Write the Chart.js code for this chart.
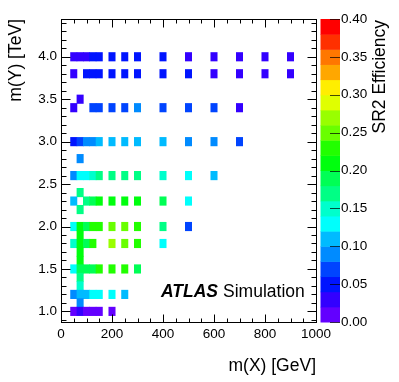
<!DOCTYPE html>
<html>
<head>
<meta charset="utf-8">
<script src="https://cdn.jsdelivr.net/npm/chart.js@4.4.0/dist/chart.umd.min.js"></script>
<style>
html,body{margin:0;padding:0;background:#fff;}
#wrap{width:399px;height:382px;position:relative;}
</style>
</head>
<body>
<div id="wrap"><canvas id="c" width="399" height="382"></canvas></div>
<script>
// ---- data ----
// m(Y) [TeV] of each row of signal points
const rowMY = [4.0, 3.8, 3.5, 3.4, 3.0, 2.8, 2.6, 2.4, 2.3, 2.2, 2.0, 1.9, 1.8, 1.7, 1.6, 1.5, 1.4, 1.3, 1.2, 1.1, 1.0];
// m(X) [GeV] of the points in each row
const rowMX = [
  [50, 75, 100, 125, 150, 200, 250, 300, 400, 500, 600, 700, 800, 900],
  [50, 100, 125, 150, 200, 250, 300, 400, 500, 600, 700, 800, 900],
  [75],
  [50, 125, 150, 200, 250, 300, 400, 500, 600, 700],
  [50, 75, 100, 125, 150, 200, 250, 300, 400, 500, 600, 700],
  [75],
  [50, 75, 100, 125, 150, 200, 250, 300, 400, 500, 600],
  [75],
  [50, 100, 125, 150, 200, 250, 300, 400, 500],
  [75],
  [50, 75, 100, 125, 150, 200, 250, 300, 400, 500],
  [75],
  [50, 75, 100, 125, 200, 250, 300, 400],
  [75],
  [75],
  [50, 75, 100, 125, 150, 200, 250, 300],
  [75],
  [75],
  [50, 75, 100, 125, 150, 200, 250],
  [75],
  [50, 75, 100, 125, 150, 200]
];
// SR2 efficiency of the points in each row
const rowEff = [
  [0.032, 0.034, 0.036, 0.043, 0.045, 0.047, 0.046, 0.044, 0.042, 0.038, 0.035, 0.033, 0.031, 0.030],
  [0.036, 0.048, 0.050, 0.052, 0.052, 0.051, 0.050, 0.047, 0.043, 0.038, 0.036, 0.034, 0.032],
  [0.030],
  [0.038, 0.068, 0.071, 0.074, 0.077, 0.083, 0.070, 0.066, 0.062, 0.039],
  [0.055, 0.072, 0.090, 0.097, 0.106, 0.110, 0.112, 0.108, 0.104, 0.088, 0.084, 0.078],
  [0.092],
  [0.094, 0.128, 0.135, 0.148, 0.165, 0.168, 0.166, 0.163, 0.146, 0.126, 0.112],
  [0.172],
  [0.114, 0.175, 0.188, 0.205, 0.212, 0.210, 0.206, 0.185, 0.128],
  [0.170],
  [0.132, 0.208, 0.196, 0.226, 0.232, 0.251, 0.247, 0.228, 0.172, 0.066],
  [0.212],
  [0.152, 0.214, 0.197, 0.224, 0.265, 0.252, 0.232, 0.124],
  [0.213],
  [0.209],
  [0.126, 0.198, 0.192, 0.195, 0.222, 0.229, 0.226, 0.186],
  [0.176],
  [0.156],
  [0.088, 0.112, 0.116, 0.124, 0.127, 0.122, 0.106],
  [0.091],
  [0.016, 0.024, 0.018, 0.017, 0.015, 0.014]
];
// tick labels
const xTickValues = [0, 200, 400, 600, 800, 1000];
const yTickValues = [1.0, 1.5, 2.0, 2.5, 3.0, 3.5, 4.0];
const zTickValues = [0, 0.05, 0.10, 0.15, 0.20, 0.25, 0.30, 0.35, 0.40];

// ---- styling ----
const palette = ['#6300ff','#3300ff','#0014ff','#0044ff','#008bff','#00bbff','#00fffc','#00ffcc','#00ff85','#00ff55',
                 '#00ff0e','#22ff00','#69ff00','#99ff00','#e0ff00','#ffee00','#ffa700','#ff7700','#ff3000','#ff0000'];
const zMin = 0, zMax = 0.4;
const binHeight = 0.1; // TeV, bin size in m(Y)
const FONT = "'Liberation Sans', Arial, Helvetica, sans-serif";

function colorFor(e) {
  let k = Math.floor((e - zMin) / (zMax - zMin) * palette.length);
  k = Math.max(0, Math.min(palette.length - 1, k));
  return palette[k];
}

const cells = [], cellColors = [];
rowMY.forEach((my, r) => {
  rowMX[r].forEach((mx, i) => {
    cells.push({x: mx, y: [my - binHeight / 2, my + binHeight / 2]});
    cellColors.push(colorFor(rowEff[r][i]));
  });
});

function noPad(s) { s.paddingTop = 0; s.paddingBottom = 0; s.paddingLeft = 0; s.paddingRight = 0; }

const decor = {
  id: 'decor',
  afterDatasetsDraw(chart) {
    const {ctx, chartArea: a, scales} = chart;
    const xs = scales.x, ys = scales.y, zs = scales.z;
    const px = v => Math.round(v) + 0.5;
    ctx.save();
    // colour bar
    const cbL = a.right + 4.5, cbR = a.right + 24;
    for (let i = 0; i < palette.length; i++) {
      const v0 = zMin + i * (zMax - zMin) / palette.length;
      const v1 = zMin + (i + 1) * (zMax - zMin) / palette.length;
      const y0 = zs.getPixelForValue(v0), y1 = zs.getPixelForValue(v1);
      ctx.fillStyle = palette[i];
      ctx.fillRect(cbL, y1, cbR - cbL, y0 - y1 + 0.5);
    }
    ctx.strokeStyle = 'rgba(0,0,0,0.7)';
    ctx.lineWidth = 1;
    ctx.beginPath();
    zTickValues.forEach(v => {
      const y = px(zs.getPixelForValue(v));
      ctx.moveTo(cbR, y); ctx.lineTo(cbR - 10, y);
    });
    ctx.stroke();

    // frame and ticks
    ctx.strokeStyle = '#000';
    ctx.lineWidth = 1;
    const L = px(a.left), R = px(a.right), T = px(a.top), B = px(a.bottom);
    ctx.strokeRect(L, T, R - L, B - T);
    ctx.beginPath();
    for (let k = 0; k <= 20; k++) {
      const v = k * 50;
      const len = (k % 4 === 0) ? 8 : 4;
      const x = px(xs.getPixelForValue(v));
      ctx.moveTo(x, B); ctx.lineTo(x, B - len);
      ctx.moveTo(x, T); ctx.lineTo(x, T + len);
    }
    for (let k = 9; k <= 44; k++) {
      const v = k / 10;
      const len = (k % 5 === 0) ? 9 : 5;
      const y = px(ys.getPixelForValue(v));
      ctx.moveTo(L, y); ctx.lineTo(L + len, y);
      ctx.moveTo(R, y); ctx.lineTo(R - len, y);
    }
    ctx.stroke();

    // colour bar title
    ctx.fillStyle = '#000';
    ctx.font = '17.5px ' + FONT;
    ctx.save();
    ctx.translate(380, a.top + 1);
    ctx.rotate(-Math.PI / 2);
    ctx.textAlign = 'right';
    ctx.textBaseline = 'middle';
    ctx.fillText('SR2 Efficiency', 0, 0);
    ctx.restore();

    // ATLAS label
    const ax = a.left + 100, ay = a.bottom - 25;
    ctx.textAlign = 'left';
    ctx.textBaseline = 'alphabetic';
    ctx.font = 'italic bold 17.5px ' + FONT;
    ctx.fillText('ATLAS', ax, ay);
    const w = ctx.measureText('ATLAS').width;
    ctx.font = '17.5px ' + FONT;
    ctx.fillText('Simulation', ax + w + 5, ay);
    ctx.restore();
  }
};

Chart.defaults.font.family = FONT;
Chart.defaults.color = '#000';

new Chart(document.getElementById('c'), {
  type: 'bar',
  data: {
    datasets: [{
      data: cells,
      backgroundColor: cellColors,
      borderWidth: 0,
      barPercentage: 1,
      categoryPercentage: 1,
      grouped: false
    }]
  },
  options: {
    responsive: false,
    animation: false,
    devicePixelRatio: 1,
    layout: {padding: {top: 19, left: 0, right: 0, bottom: 0}},
    plugins: {legend: {display: false}, tooltip: {enabled: false}},
    scales: {
      x: {
        type: 'linear', position: 'bottom', min: 0, max: 1000, offset: false,
        grid: {display: false, drawTicks: false}, border: {display: false},
        afterBuildTicks: s => { s.ticks = xTickValues.map(v => ({value: v})); },
        afterFit: s => { s.height = 60; noPad(s); },
        ticks: {font: {size: 13.5}, padding: 4, maxRotation: 0, autoSkip: false, callback: v => String(v)},
        title: {display: true, text: 'm(X) [GeV]', align: 'end', font: {size: 17.5}, padding: {top: 0, bottom: 5}}
      },
      y: {
        type: 'linear', position: 'left', min: 0.875, max: 4.445,
        grid: {display: false, drawTicks: false}, border: {display: false},
        afterBuildTicks: s => { s.ticks = yTickValues.map(v => ({value: v})); },
        afterFit: s => { s.width = 61; noPad(s); },
        ticks: {font: {size: 13.5}, padding: 4, autoSkip: false, callback: v => Number(v).toFixed(1)},
        title: {display: true, text: 'm(Y) [TeV]', align: 'end', font: {size: 17.5}, padding: {top: 6, bottom: 0}}
      },
      z: {
        type: 'linear', position: 'right', min: zMin, max: zMax,
        grid: {display: false, drawTicks: false}, border: {display: false},
        afterBuildTicks: s => { s.ticks = zTickValues.map(v => ({value: v})); },
        afterFit: s => { s.width = 83; noPad(s); },
        ticks: {font: {size: 13.5}, padding: 25, autoSkip: false, callback: v => Number(v).toFixed(2)}
      }
    }
  },
  plugins: [decor]
});
</script>
</body>
</html>
